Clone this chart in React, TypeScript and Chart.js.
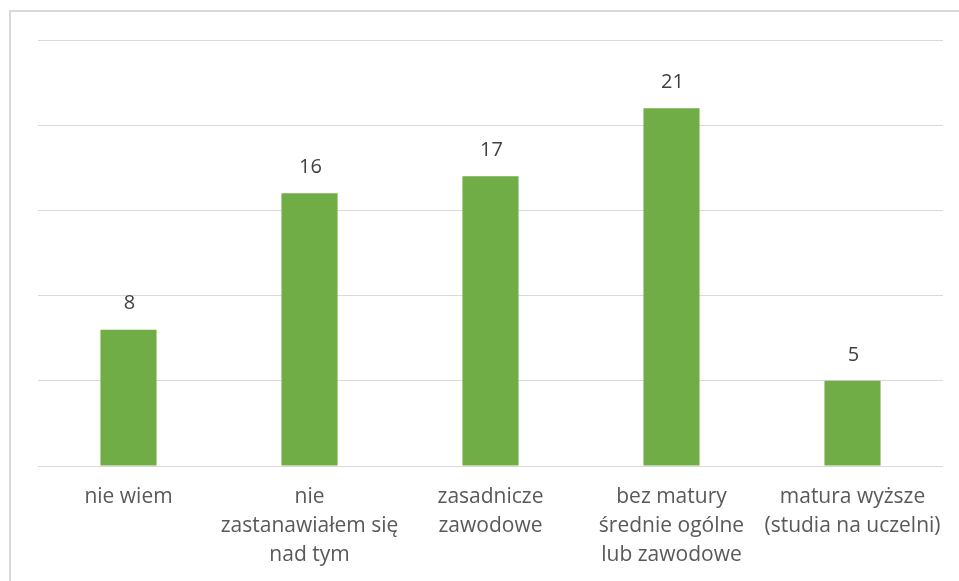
import React, { useEffect, useRef } from "react";
import { Chart, registerables } from "chart.js";

Chart.register(...registerables);

const categories: string[][] = [
  ["nie wiem"],
  ["nie", "zastanawiałem się", "nad tym"],
  ["zasadnicze", "zawodowe"],
  ["bez matury", "średnie ogólne", "lub zawodowe"],
  ["matura wyższe", "(studia na uczelni)"],
];
const values: number[] = [8, 16, 17, 21, 5];
const yTicks: number[] = [0, 5, 10, 15, 20, 25];

const FONT = "'Open Sans', 'Noto Sans', sans-serif";

const dataLabels = {
  id: "dataLabels",
  afterDatasetsDraw(chart: any) {
    const ctx = chart.ctx;
    const meta = chart.getDatasetMeta(0);
    ctx.save();
    ctx.fillStyle = "#404040";
    ctx.font = `20px ${FONT}`;
    ctx.textAlign = "center";
    ctx.textBaseline = "middle";
    meta.data.forEach((bar: any, i: number) => {
      ctx.fillText(String(values[i]), bar.x + 1, bar.y - 26);
    });
    ctx.restore();
  },
};

export default function App() {
  const ref = useRef<HTMLCanvasElement>(null);
  useEffect(() => {
    document.body.style.margin = "0";
    const chart = new Chart(ref.current!, {
      type: "bar",
      data: {
        labels: categories,
        datasets: [
          {
            data: values,
            backgroundColor: "#70ad47",
            categoryPercentage: 1,
            barPercentage: 0.31,
          },
        ],
      },
      options: {
        animation: false,
        responsive: false,
        maintainAspectRatio: false,
        layout: { padding: { left: 38, right: 16, top: 40, bottom: 0 } },
        plugins: { legend: { display: false }, tooltip: { enabled: false } },
        scales: {
          x: {
            grid: { display: false, drawTicks: false },
            border: { display: false },
            ticks: {
              color: "#595959",
              font: { family: FONT, size: 21, lineHeight: 1.4 },
              padding: 16,
              maxRotation: 0,
              autoSkip: false,
            },
            afterFit: (s: any) => {
              s.height = 115;
            },
          },
          y: {
            min: 0,
            max: 25,
            afterBuildTicks: (s: any) => {
              s.ticks = yTicks.map((v) => ({ value: v }));
            },
            grid: { color: "#d9d9d9", lineWidth: 1, drawTicks: false },
            border: { display: false },
            ticks: { display: false },
            afterFit: (s: any) => {
              s.width = 0;
            },
          },
        },
      },
      plugins: [dataLabels],
    });
    return () => chart.destroy();
  }, []);
  return (
    <div style={{ position: "relative", width: 959, height: 581, overflow: "hidden", background: "#fff" }}>
      <div
        style={{
          position: "absolute",
          left: 9,
          top: 10,
          width: 1000,
          height: 700,
          border: "2px solid #d9d9d9",
          boxSizing: "border-box",
        }}
      />
      <canvas ref={ref} width={959} height={581} style={{ position: "absolute", left: 0, top: 0, display: "block" }} />
    </div>
  );
}
